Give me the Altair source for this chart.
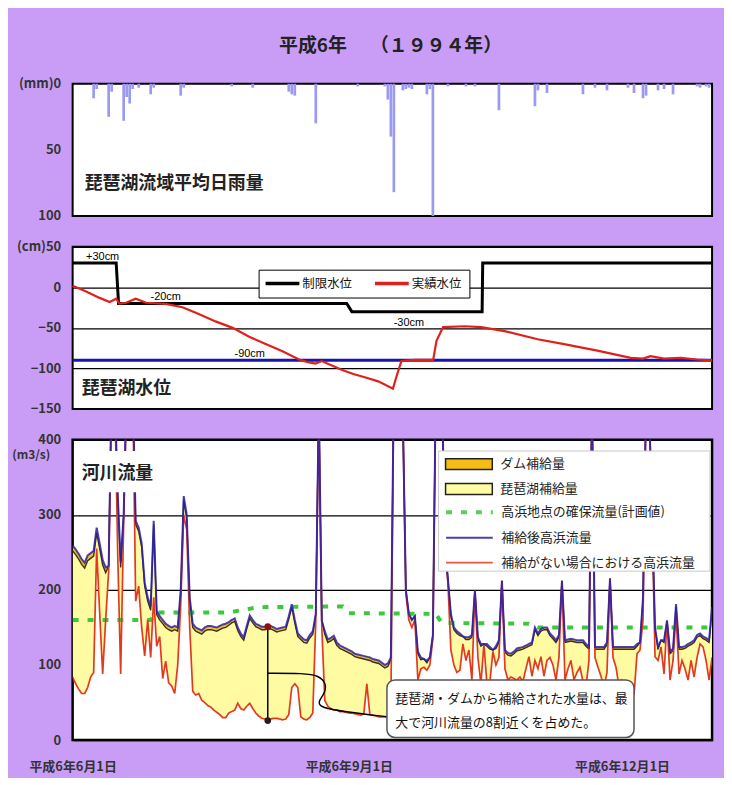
import altair as alt
import pandas as pd

FONT = "Noto Sans CJK JP"
PURPLE = "#C99DF6"
TITLE = "平成6年　 （１９９４年）"

W = 643
H1, H2, H3 = 133, 163, 302
X_MAX = 213  # days after 1994-06-01

TICK_DAYS = [0, 92, 183]
TICK_LABELS = ["平成6年6月1日", "平成6年9月1日", "平成6年12月1日"]

# ---------------- rainfall (mm/day) ----------------
rain_day = [7, 8, 12, 13, 17, 18, 19, 20, 22, 26,
            27, 36, 37, 53, 60, 72, 73, 74, 81, 95,
            104, 105, 106, 107, 110, 111, 112, 113, 118, 119,
            120, 125, 131, 134, 142, 154, 155, 158, 170, 174,
            178, 185, 187, 190, 191, 195, 197, 200, 208, 209,
            211, 212]
rain_mm = [11, 4, 25, 6, 28, 10, 15, 4, 3, 8,
           3, 9, 3, 2, 3, 6, 8, 9, 30, 2,
           2, 12, 40, 82, 5, 4, 3, 4, 8, 4,
           100, 2, 2, 2, 20, 17, 5, 7, 8, 3,
           5, 3, 7, 11, 9, 5, 4, 8, 2, 3,
           2, 3]

# ---------------- lake level (cm) ----------------
ctrl_day = [0, 14.5, 15.3, 91.3, 93, 136.4, 136.6, 213]
ctrl_cm = [30, 30, -20, -20, -30, -30, 30, 30]
LOW_LEVEL = -90

level_day = [0, 4.5, 9, 12.3, 14.5, 15.6, 17.8, 21, 24.5, 31,
             36.6, 42, 47.6, 53.3, 58.8, 64.3, 69.9, 75.4, 78, 80.9,
             83, 85.4, 89.8, 93.5, 97.3, 101.8, 106.7, 107.8, 109.5, 113.9,
             120.1, 121.2, 123.4, 130.6, 136.1, 143.8, 154.9, 163.7, 174.8, 185.9,
             190, 192.5, 197, 202.5, 208, 213]
level_cm = [2, -5, -13, -18, -14, -20, -19, -14, -19, -20.5,
            -24.5, -33, -42, -50, -61, -70, -79, -89, -92, -94,
            -91, -95, -102, -107, -111, -116, -125, -111, -91, -89.5,
            -89.5, -66, -49, -48, -49, -54, -64, -70, -78, -87,
            -88, -85, -88, -87, -89, -90]

level_notes = ["+30cm", "-20cm", "-30cm", "-90cm"]
level_note_day = [10, 31, 112, 59]
level_note_cm = [38, -12, -44, -82]

# ---------------- river flow (m3/s) ----------------
flow_after = [  # 補給後高浜流量, day 0..213
    259, 254, 248, 241, 236, 246, 249, 252, 283, 262,
    240, 230, 232, 470, 470, 330, 237, 300, 470, 470,
    470, 292, 283, 262, 210, 190, 178, 292, 172, 165,
    160, 155, 152, 150, 152, 150, 200, 325, 300, 190,
    155, 150, 148, 146, 150, 152, 152, 151, 150, 152,
    154, 155, 157, 160, 162, 150, 142, 137, 152, 166,
    160, 155, 153, 151, 151, 152, 152, 150, 148, 149,
    150, 151, 165, 181, 160, 142, 138, 134, 133, 140,
    145, 168, 450, 159, 145, 134, 136, 139, 130, 126,
    124, 122, 120, 118, 115, 114, 113, 112, 111, 110,
    108, 107, 106, 103, 100, 102, 110, 480, 520, 480,
    430, 200, 168, 160, 165, 118, 110, 108, 106, 110,
    140, 480, 520, 480, 260, 215, 168, 150, 145, 142,
    138, 137, 137, 140, 199, 137, 128, 128, 128, 124,
    120, 125, 133, 212, 120, 116, 115, 118, 122, 123,
    124, 126, 128, 130, 150, 142, 148, 150, 150, 142,
    138, 133, 140, 212, 133, 134, 135, 134, 133, 133,
    133, 128, 124, 450, 124, 124, 124, 124, 130, 215,
    124, 124, 124, 124, 124, 124, 124, 124, 128, 130,
    190, 450, 450, 300, 150, 124, 133, 133, 159, 118,
    122, 181, 124, 124, 125, 128, 130, 133, 140, 142,
    138, 136, 133, 177]
flow_without = [  # 補給がない場合における高浜流量
    84, 75, 68, 62, 62, 70, 84, 90, 255, 170,
    88, 160, 225, 470, 470, 250, 88, 290, 470, 470,
    470, 185, 205, 150, 112, 160, 110, 190, 125, 138,
    82, 105, 76, 72, 62, 100, 180, 300, 280, 150,
    65, 60, 62, 53, 50, 46, 44, 40, 37, 34,
    30, 30, 36, 38, 40, 49, 42, 40, 45, 49,
    42, 36, 32, 29, 28, 27, 28, 29, 29, 28,
    27, 28, 34, 70, 75, 70, 31, 28, 27, 30,
    36, 160, 440, 150, 53, 45, 42, 40, 40, 38,
    38, 37, 36, 36, 35, 34, 33, 35, 75, 34,
    33, 32, 31, 31, 31, 31, 40, 480, 520, 480,
    430, 195, 160, 150, 160, 80, 95, 97, 93, 100,
    135, 480, 520, 480, 255, 210, 120, 100, 90, 93,
    128, 106, 120, 80, 199, 110, 75, 128, 75, 78,
    118, 100, 110, 212, 95, 80, 84, 82, 80, 84,
    78, 95, 111, 85, 106, 95, 111, 85, 106, 110,
    100, 80, 110, 212, 80, 95, 106, 80, 90, 97,
    78, 71, 106, 450, 110, 97, 85, 71, 90, 215,
    110, 97, 71, 80, 75, 78, 71, 60, 115, 120,
    160, 450, 450, 300, 111, 106, 124, 88, 159, 80,
    106, 168, 88, 106, 95, 80, 106, 84, 110, 128,
    124, 106, 80, 110]
flow_day = list(range(len(flow_after)))

# dam share of the supply (thin band under the blue line), by period
dam_start = [0, 21, 52, 106]
dam_rate = [7, 5, 4, 3]

target_day = [0, 26, 28, 52, 62, 90, 92, 121, 123, 152, 155, 213]
target_flow = [160, 160, 170, 170, 177, 178, 169, 168, 156, 155, 150, 150]

# annotation (max share of supply)
mark_day = 65
mark_top, mark_bottom = 151, 26
link_day = [65, 77, 82, 84.6, 84, 81.5, 83, 90, 104.7]
link_val = [89, 89, 86, 75, 62, 50, 43, 38, 31]
note_lines = ["琵琶湖・ダムから補給された水量は、最", "大で河川流量の8割近くを占めた。"]

# ---------------- names & colours ----------------
S_DAM = "ダム補給量"
S_LAKE = "琵琶湖補給量"
S_TARGET = "高浜地点の確保流量(計画値)"
S_AFTER = "補給後高浜流量"
S_WITHOUT = "補給がない場合における高浜流量"
ORANGE = "#F5BE14"
YELLOW = "#FFFBA3"
GREEN = "#3CC83C"
BLUE = "#2B20A8"
RED = "#E23A1E"
S_CTRL = "制限水位"
S_LEVEL = "実績水位"

x_scale = alt.Scale(domain=[0, X_MAX], nice=False, zero=False)


def y_axis(values, label_expr=None, grid=False, **kw):
    opts = dict(values=values, grid=grid, gridColor="black", gridWidth=1.3,
                ticks=False, domain=False, labelPadding=12, labelFont=FONT,
                labelFontSize=13, labelFontWeight="bold", labelColor="#333",
                minExtent=50, maxExtent=50, title=None)
    if label_expr:
        opts["labelExpr"] = label_expr
    opts.update(kw)
    return alt.Axis(**opts)


view_style = dict(fill="white", stroke="black", strokeWidth=2)

# ================= panel 1 : rainfall =================
y1_scale = alt.Scale(domain=[0, 100], reverse=True, nice=False)
y1_axis = y_axis([0, 50, 100], "datum.value == 0 ? '(mm)0' : datum.label")
X1 = lambda f: alt.X(f, scale=x_scale, axis=None)
Y1 = lambda f: alt.Y(f, scale=y1_scale, axis=y1_axis)

rain_df = pd.DataFrame({"day": rain_day, "mm": rain_mm})
rain = alt.Chart(rain_df).mark_bar(color="#9A9AF0").transform_calculate(
    x0="datum.day - 0.45", x1="datum.day + 0.45"
).encode(x=X1("x0:Q"), x2="x1:Q", y=Y1("mm:Q"), y2=alt.datum(0))
rain_label = alt.Chart(pd.DataFrame({"day": [4], "mm": [76], "t": ["琵琶湖流域平均日雨量"]})).mark_text(
    align="left", baseline="middle", font=FONT, fontSize=18, fontWeight="bold", color="#222"
).encode(x=X1("day:Q"), y=Y1("mm:Q"), text="t:N")
panel1 = alt.layer(rain, rain_label).properties(width=W, height=H1, view=alt.ViewBackground(**view_style))

# ================= panel 2 : lake level =================
y2_scale = alt.Scale(domain=[-150, 50], nice=False)
y2_axis = y_axis([50, 0, -50, -100, -150], "datum.value == 50 ? '(cm)50' : datum.label", grid=True)
X2 = lambda f: alt.X(f, scale=x_scale, axis=None)
Y2 = lambda f: alt.Y(f, scale=y2_scale, axis=y2_axis)

legend2 = alt.Legend(
    title=None, orient="none", legendX=187, legendY=23, direction="horizontal",
    fillColor="white", strokeColor="black", padding=7,
    symbolType="M-3.4,0H3.4", symbolSize=100, symbolStrokeWidth=3.5,
    symbolOffset=10, labelOffset=13, columnPadding=15,
    labelFont=FONT, labelFontSize=12.5, labelColor="#111",
)
color2 = alt.Color("series:N", scale=alt.Scale(domain=[S_CTRL, S_LEVEL], range=["black", "#E0201A"]), legend=legend2)

low_df = pd.DataFrame({"day": [0, X_MAX], "cm": [LOW_LEVEL, LOW_LEVEL]})
low_line = alt.Chart(low_df).mark_line(color="#1515B0", strokeWidth=3).encode(x=X2("day:Q"), y=Y2("cm:Q"))
ctrl_line = alt.Chart(pd.DataFrame({"day": ctrl_day, "cm": ctrl_cm, "series": S_CTRL})).mark_line(
    strokeWidth=3
).encode(x=X2("day:Q"), y=Y2("cm:Q"), color=color2)
level_line = alt.Chart(pd.DataFrame({"day": level_day, "cm": level_cm, "series": S_LEVEL})).mark_line(
    strokeWidth=2.2
).encode(x=X2("day:Q"), y=Y2("cm:Q"), color=color2)
notes2 = alt.Chart(pd.DataFrame({"day": level_note_day, "cm": level_note_cm, "t": level_notes})).mark_text(
    font="Liberation Sans", fontSize=11, color="black"
).encode(x=X2("day:Q"), y=Y2("cm:Q"), text="t:N")
label2 = alt.Chart(pd.DataFrame({"day": [3], "cm": [-126], "t": ["琵琶湖水位"]})).mark_text(
    align="left", baseline="middle", font=FONT, fontSize=18, fontWeight="bold", color="#222"
).encode(x=X2("day:Q"), y=Y2("cm:Q"), text="t:N")
panel2 = alt.layer(low_line, ctrl_line, level_line, notes2, label2).properties(
    width=W, height=H2, view=alt.ViewBackground(**view_style))

# ================= panel 3 : river flow =================
y3_scale = alt.Scale(domain=[0, 400], nice=False)
y3_axis = y_axis([0, 100, 200, 300, 400], grid=True,
                 gridOpacity={"condition": {"test": "datum.value == 100", "value": 0}, "value": 1},
                 title="(m3/s)", titleAngle=0, titleAlign="right", titleBaseline="middle",
                 titleX=-23, titleY=15, titleFont=FONT, titleFontSize=12, titleFontWeight="bold",
                 titleColor="#333")
x_label_expr = " : ".join(f"datum.value == {d} ? '{l}'" for d, l in zip(TICK_DAYS, TICK_LABELS)) + " : ''"
x3_axis = alt.Axis(values=TICK_DAYS, labelExpr=x_label_expr, ticks=False, domain=False, grid=False,
                   labelPadding=21, labelFont=FONT, labelFontSize=13, labelFontWeight="bold",
                   labelColor="#333", title=None, labelFlush=False, labelOverlap=False)
X3 = lambda f: alt.X(f, scale=x_scale, axis=x3_axis)
Y3 = lambda f: alt.Y(f, scale=y3_scale, axis=y3_axis)

legend_common = dict(title=None, orient="none", legendX=375, direction="vertical",
                     padding=0, symbolSize=100, symbolOffset=17, labelOffset=25,
                     labelFont=FONT, labelFontSize=13, labelColor="#222", labelLimit=400)
legend_fill = alt.Legend(legendY=18, rowPadding=8, symbolType="M-4.7,-1.1H4.7V1.1H-4.7Z",
                         symbolStrokeColor="#222", symbolStrokeWidth=1.5, **legend_common)
legend_line = alt.Legend(legendY=66, rowPadding=11, symbolType="M-4.7,0H4.7", **legend_common)

line_names = [S_TARGET, S_AFTER, S_WITHOUT]
fill3 = alt.Fill("series:N", scale=alt.Scale(domain=[S_DAM, S_LAKE], range=[ORANGE, YELLOW]), legend=legend_fill)
stroke3 = alt.Stroke("series:N", scale=alt.Scale(domain=line_names, range=[GREEN, BLUE, RED]), legend=legend_line)
dash3 = alt.StrokeDash("series:N", scale=alt.Scale(domain=line_names, range=[[6, 9], [1, 0], [1, 0]]),
                       legend=legend_line)
width3 = alt.StrokeWidth("series:O", scale=alt.Scale(type="ordinal", domain=line_names, range=[4, 2, 1.7]),
                         legend=legend_line)


def dam_for(day, after, without):
    if after - without < 12:
        return 0
    rate = 0
    for s, v in zip(dam_start, dam_rate):
        if day >= s:
            rate = v
    return rate


flow_df = pd.DataFrame({"day": flow_day, "after": flow_after, "without": flow_without})
flow_df["dam"] = [dam_for(d, a, w) for d, a, w in zip(flow_day, flow_after, flow_without)]
flow_df["lake_top"] = flow_df["after"] - flow_df["dam"]
base3 = alt.Chart(flow_df)

lake_area = base3.mark_area(clip=True).transform_calculate(series=f"'{S_LAKE}'").encode(
    x=X3("day:Q"), y=Y3("without:Q"), y2="lake_top:Q", fill=fill3)
dam_area = base3.mark_area(clip=True).transform_calculate(series=f"'{S_DAM}'").encode(
    x=X3("day:Q"), y=Y3("lake_top:Q"), y2="after:Q", fill=fill3)
lake_edge = base3.mark_line(clip=True, color="#3A3020", strokeWidth=1.4).encode(
    x=X3("day:Q"), y=Y3("lake_top:Q"))
target_line = alt.Chart(pd.DataFrame({"day": target_day, "q": target_flow, "series": S_TARGET})).mark_line(
    clip=True).encode(x=X3("day:Q"), y=Y3("q:Q"), stroke=stroke3, strokeDash=dash3, strokeWidth=width3)
red_line = base3.mark_line(clip=True).transform_calculate(series=f"'{S_WITHOUT}'").encode(
    x=X3("day:Q"), y=Y3("without:Q"), stroke=stroke3, strokeDash=dash3, strokeWidth=width3)
blue_line = base3.mark_line(clip=True, opacity=0.85).transform_calculate(
    series=f"'{S_AFTER}'").encode(x=X3("day:Q"), y=Y3("after:Q"), stroke=stroke3, strokeDash=dash3,
                                  strokeWidth=width3)

label_box = alt.Chart(pd.DataFrame({"x0": [2.5], "x1": [27], "y0": [330], "y1": [385]})).mark_rect(
    fill="white").encode(x=X3("x0:Q"), x2="x1:Q", y=Y3("y0:Q"), y2="y1:Q")
label3 = alt.Chart(pd.DataFrame({"day": [3], "q": [354], "t": ["河川流量"]})).mark_text(
    align="left", baseline="middle", font=FONT, fontSize=18, fontWeight="bold", color="#222"
).encode(x=X3("day:Q"), y=Y3("q:Q"), text="t:N")
legend_box = alt.Chart(pd.DataFrame({"x0": [121.9], "x1": [212.3], "y0": [225], "y1": [385]})).mark_rect(
    fill="white", stroke="#C8C8C8", strokeWidth=1).encode(x=X3("x0:Q"), x2="x1:Q", y=Y3("y0:Q"), y2="y1:Q")

mark_rule = alt.Chart(pd.DataFrame({"day": [mark_day], "lo": [mark_bottom], "hi": [mark_top]})).mark_rule(
    color="black", strokeWidth=1.5).encode(x=X3("day:Q"), y=Y3("lo:Q"), y2="hi:Q")
mark_dots = alt.Chart(pd.DataFrame({"day": [mark_day, mark_day], "q": [mark_top, mark_bottom],
                                    "c": ["#8B1010", "#2A1A1A"]})).mark_point(
    filled=True, size=45, opacity=1).encode(x=X3("day:Q"), y=Y3("q:Q"), color=alt.Color("c:N", scale=None))
link = alt.Chart(pd.DataFrame({"day": link_day, "q": link_val, "i": list(range(len(link_day)))})).mark_line(
    color="black", strokeWidth=1.4, interpolate="basis").encode(x=X3("day:Q"), y=Y3("q:Q"), order="i:Q")
note_box = alt.Chart(pd.DataFrame({"x0": [104.7], "x1": [187], "y0": [3.5], "y1": [80]})).mark_rect(
    fill="white", stroke="#555", strokeWidth=1.5, cornerRadius=8).encode(
    x=X3("x0:Q"), x2="x1:Q", y=Y3("y0:Q"), y2="y1:Q")
note_text = alt.Chart(pd.DataFrame({"day": [107.5, 107.5], "q": [54, 23], "t": note_lines})).mark_text(
    align="left", baseline="middle", font=FONT, fontSize=13, color="#111").encode(
    x=X3("day:Q"), y=Y3("q:Q"), text="t:N")

panel3 = alt.layer(
    lake_area, dam_area, lake_edge, target_line, red_line, blue_line,
    label_box, label3, legend_box, mark_rule, mark_dots, link, note_box, note_text
).properties(width=W, height=H3, view=alt.ViewBackground(fill="white", stroke="black", strokeWidth=2.5))

chart = alt.vconcat(
    panel1, panel2, panel3, spacing=31, bounds="flush",
    title=alt.TitleParams(TITLE, fontSize=19, font=FONT, fontWeight="bold", color="#222",
                          anchor="middle", offset=24, dx=26, dy=3),
).resolve_scale(
    color="independent", fill="independent", stroke="independent",
    strokeDash="independent", strokeWidth="independent"
).resolve_legend(
    color="independent", fill="independent", stroke="independent",
    strokeDash="independent", strokeWidth="independent"
).properties(
    padding={"left": 2, "right": 5, "top": 27, "bottom": 0}
).configure(background=PURPLE, font=FONT)

chart.save("out.html", embed_options={"renderer": "svg", "actions": False})
